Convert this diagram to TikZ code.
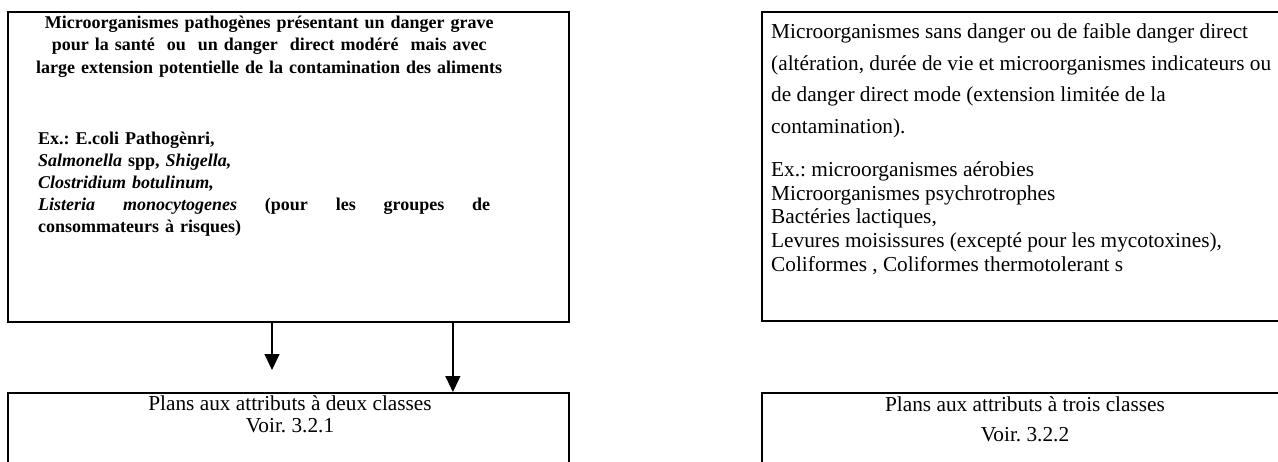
\documentclass[tikz,border=0pt]{standalone}
\usepackage{fontspec}
\setmainfont{Liberation Serif}
\usetikzlibrary{positioning,arrows.meta}
\frenchspacing

\begin{document}
\begin{tikzpicture}[x=1pt,y=-1pt]
	\tikzset{box/.style={draw,line width=1.8pt,anchor=north west,inner sep=0pt}}
	\tikzset{txt/.style={inner sep=0pt}}
	\tikzstyle{down}=[-{Triangle[length=16pt,width=15pt]},line width=1.2pt]
	\useasboundingbox (0,0) rectangle (1278,461);
	\clip (0,0) rectangle (1278,461);

	%% Boxes
	\node[box,minimum width=561pt,minimum height=310pt] (grave) at (7,11) {};
	\node[box,minimum width=529pt,minimum height=309pt] (faible) at (761,11) {};
	\node[box,minimum width=561pt,minimum height=100pt] (deux) at (7,392) {};
	\node[box,minimum width=529pt,minimum height=100pt] (trois) at (761,392) {};

	%% Texts of the upper boxes
	\node[txt,anchor=north west,text width=470pt,align=center,
	      font=\bfseries\fontsize{18}{22.5}\selectfont] (gravehead) at (34,12.5)
	    {\strut Microorganismes pathogènes présentant un danger grave\\
	     pour la santé\ \ ou\ \ un danger\ \ direct modéré\ \ mais avec\\
	     large extension potentielle de la contamination des aliments};
	\node[txt,anchor=north west,text width=452pt,align=left,
	      font=\bfseries\fontsize{18}{21.8}\selectfont] (graveex) at (38,129.5)
	    {\strut Ex.: E.coli Pathogènri,\\
	     \textit{Salmonella} spp, \textit{Shigella,}\\
	     \textit{Clostridium botulinum,}\\
	     \textit{Listeria}\hfill\textit{monocytogenes}\hfill(pour\hfill les\hfill groupes\hfill de\\
	     consommateurs à risques)};
	\node[txt,anchor=north west,align=left,
	      font=\fontsize{21.3}{31.7}\selectfont] (faiblehead) at (771,16)
	    {\strut Microorganismes sans danger ou de faible danger direct\\
	     (altération, durée de vie et microorganismes indicateurs ou\\
	     de danger direct mode (extension limitée de la\\
	     contamination).};
	\node[txt,anchor=north west,align=left,
	      font=\fontsize{21.3}{23.6}\selectfont] (faibleex) at (771,160)
	    {\strut Ex.: microorganismes aérobies\\
	     Microorganismes psychrotrophes\\
	     Bactéries lactiques,\\
	     Levures moisissures (excepté pour les mycotoxines),\\
	     Coliformes , Coliformes thermotolerant s};

	%% Texts of the lower boxes
	\node[txt,anchor=north,align=center,
	      font=\fontsize{21.3}{22.5}\selectfont] (deuxtext) at (290,394.3)
	    {\strut Plans aux attributs à deux classes\\ Voir. 3.2.1};
	\node[txt,anchor=north,align=center,
	      font=\fontsize{21.3}{30}\selectfont] (troistext) at (1025,390)
	    {\strut Plans aux attributs à trois classes\\ Voir. 3.2.2};

	%% Arrows
	\coordinate (stop) at (272,370);
	\draw[down] (grave.south -| stop) -- (stop);
	\draw[down] ([xshift=164.5pt]grave.south) -- ([xshift=164.5pt]deux.north);
\end{tikzpicture}
\end{document}
